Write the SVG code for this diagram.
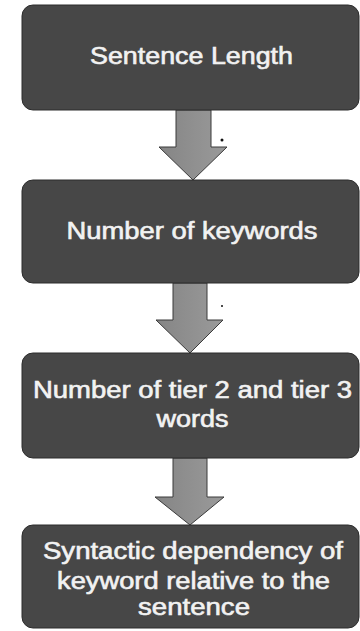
<svg xmlns="http://www.w3.org/2000/svg" width="360" height="631" viewBox="0 0 360 631">
  <defs>
    <linearGradient id="arrowGrad" x1="0" y1="0" x2="1" y2="0">
      <stop offset="0" stop-color="#858585"/>
      <stop offset="1" stop-color="#9a9a9a"/>
    </linearGradient>
    <style>
      .box { fill: #474747; stroke: #2c2c2c; stroke-width: 1; }
      .label { fill: #f2f2f2; stroke: #f2f2f2; stroke-width: 0.6; font-family: "Liberation Sans", Arial, Helvetica, sans-serif; font-size: 23px; text-anchor: middle; }
      .arrow { fill: url(#arrowGrad); stroke: #3a3a3a; stroke-width: 1; stroke-linejoin: miter; }
      .dot { fill: #111111; }
    </style>
  </defs>
  <rect x="0" y="0" width="360" height="631" fill="#ffffff"/>

  <g id="connectors">
    <path class="arrow" d="M176,110 L211,110 L211,147 L227,147 L193,180 L159,147 L176,147 Z"/>
    <path class="arrow" d="M173,283 L207,283 L207,320 L223,320 L190,353 L156,320 L173,320 Z"/>
    <path class="arrow" d="M173,458 L207,458 L207,497 L224,497 L190,525 L155,497 L173,497 Z"/>
  </g>

  <g id="node-sentence-length">
    <rect class="box" x="22" y="5" width="337" height="105" rx="11" ry="11"/>
    <text class="label" x="191.5" y="63.5" textLength="203" lengthAdjust="spacingAndGlyphs">Sentence Length</text>
  </g>

  <g id="node-number-of-keywords">
    <rect class="box" x="22" y="180" width="337" height="103" rx="11" ry="11"/>
    <text class="label" x="192" y="238.5" textLength="251" lengthAdjust="spacingAndGlyphs">Number of keywords</text>
  </g>

  <g id="node-tier-words">
    <rect class="box" x="22" y="353" width="337" height="105" rx="11" ry="11"/>
    <text class="label" x="192.5" y="398" textLength="319" lengthAdjust="spacingAndGlyphs">Number of tier 2 and tier 3</text>
    <text class="label" x="192.5" y="426.5" textLength="72" lengthAdjust="spacingAndGlyphs">words</text>
  </g>

  <g id="node-syntactic-dependency">
    <rect class="box" x="22" y="525" width="337" height="103" rx="11" ry="11"/>
    <text class="label" x="193" y="558.5" textLength="300" lengthAdjust="spacingAndGlyphs">Syntactic dependency of</text>
    <text class="label" x="193.5" y="588.5" textLength="273" lengthAdjust="spacingAndGlyphs">keyword relative to the</text>
    <text class="label" x="194" y="615" textLength="112" lengthAdjust="spacingAndGlyphs">sentence</text>
  </g>

  <circle class="dot" cx="222" cy="140" r="1.5"/>
  <circle class="dot" cx="222" cy="306" r="1"/>
</svg>
